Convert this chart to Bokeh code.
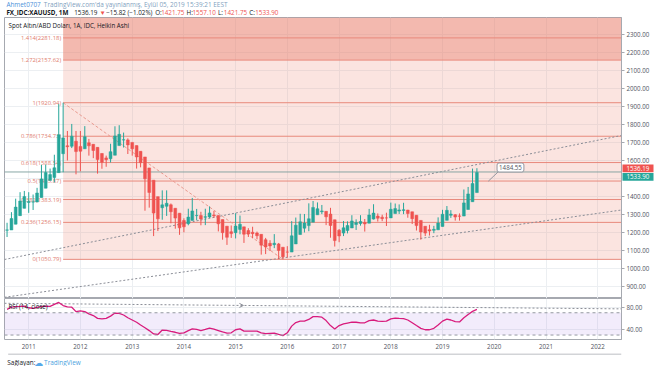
import numpy as np
import pandas as pd
from bokeh.plotting import figure
from bokeh.layouts import column, row
from bokeh.models import (Range1d, FixedTicker, PrintfTickFormatter, DatetimeTickFormatter,
                          Label, Arrow, OpenHead, ColumnDataSource, Span)
from bokeh.core.properties import value
from bokeh.embed import file_html
from bokeh.resources import INLINE

FONT = "Open Sans"
GREEN = "#26a69a"
RED = "#ef5350"
DARK = "#131722"
AXIS_TXT = "#50535e"
FRAME = "#a6a9b0"

# ---------------- data (monthly Heikin Ashi, Aug 2010 .. Sep 2019) ----------------
months = pd.date_range("2010-08-01", "2019-09-01", freq="MS")
ha_open = [1213, 1214, 1246, 1293.5, 1334,
           1366.75, 1369.1, 1369.3, 1394.4, 1446.1, 1489.4, 1505.6, 1532.5, 1637.6, 1681.6, 1679, 1707,
           1678.25, 1664.9, 1698.4, 1690, 1672.9, 1639, 1614.5, 1609.5, 1629.25, 1682.75, 1714, 1714.5,
           1700.6, 1682.7, 1651.2, 1619.6, 1558.9, 1490.7, 1399.2, 1337.5, 1345.5, 1353.9, 1334.7, 1307.4,
           1266.6, 1249, 1267.25, 1293.5, 1294.1, 1284.7, 1286.1, 1297.4, 1295, 1271.6, 1235.3, 1204.3,
           1199, 1217.25, 1231.25, 1210.9, 1201.2, 1197.35, 1189.8, 1159.8, 1139.65, 1132.6, 1136.4, 1118.3,
           1091.65, 1091.3, 1136.4, 1188.6, 1223.9, 1238.2, 1257.2, 1298.2, 1315.1, 1317.5, 1302.25, 1270.5,
           1212.9, 1196.7, 1211.35, 1225, 1244.6, 1250.2, 1255.6, 1251.7, 1274.5, 1291.1, 1285.3, 1281.15,
           1281.1, 1305, 1318.9, 1322.2, 1324.5, 1315, 1296, 1267.1, 1234.7, 1215.7, 1212, 1214.75,
           1233.5, 1267.4, 1295.2, 1298.85, 1292.3, 1291.15, 1327.8, 1371, 1421.75]
ha_high = [1254, 1313, 1388, 1424, 1431,
           1424, 1411, 1448, 1576, 1577, 1555, 1632, 1913, 1920.94, 1764, 1803, 1764,
           1764, 1791, 1720, 1690, 1672.9, 1640, 1627, 1693, 1790, 1796, 1755, 1723,
           1700.6, 1683, 1651.2, 1619.6, 1558.9, 1490.7, 1399.2, 1434, 1434, 1361, 1334.7, 1307.4,
           1279, 1332, 1392, 1331, 1315, 1332, 1345, 1320, 1295, 1271.6, 1235.3, 1239,
           1307, 1294, 1231.25, 1224, 1232, 1205, 1189.8, 1170, 1157, 1191, 1142, 1118.3,
           1124, 1263, 1283, 1304, 1303, 1362, 1375, 1367, 1353, 1317.5, 1337, 1270.5,
           1219, 1264, 1262, 1296, 1273, 1296, 1275, 1331, 1357, 1306, 1299, 1310,
           1366, 1361, 1356, 1365, 1326, 1315, 1296, 1267.1, 1234.7, 1243, 1237, 1284,
           1326, 1347, 1324, 1302, 1306, 1439, 1453, 1555, 1557.10]
ha_low = [1175, 1214, 1246, 1293.5, 1334,
          1309, 1325, 1369.3, 1394.4, 1446.1, 1489.4, 1478, 1532.5, 1535, 1600, 1669, 1523,
          1540, 1664.9, 1627, 1613, 1527, 1554, 1565, 1589, 1629.25, 1682.75, 1672, 1636,
          1627, 1555, 1562, 1321, 1338, 1180, 1208, 1271, 1292, 1251, 1221, 1187,
          1201, 1240, 1267.25, 1268, 1240, 1241, 1281, 1281, 1206, 1160, 1131, 1170,
          1167, 1190, 1142, 1175, 1168, 1162, 1077, 1080, 1097, 1113, 1052, 1050.79,
          1061, 1091.3, 1136.4, 1188.6, 1200, 1207, 1257.2, 1298.2, 1302, 1241, 1171, 1122,
          1146, 1180, 1195, 1225, 1214, 1238, 1205, 1251.7, 1272, 1261, 1263, 1236,
          1281.1, 1305, 1303, 1302, 1282, 1247, 1211, 1160, 1180, 1183, 1196, 1214.75,
          1233.5, 1267.4, 1281, 1266, 1266, 1291.15, 1327.8, 1371, 1421.75]
ha_close = [1214.5, 1277.5, 1341, 1374.5, 1399.5,
            1371.5, 1369.5, 1419.5, 1497.75, 1532.75, 1521.75, 1559.5, 1742.75, 1725.5, 1676.5, 1735, 1649.5,
            1651.5, 1732, 1681.5, 1655.75, 1605, 1590, 1604.5, 1649, 1736.25, 1745.25, 1715, 1686.75,
            1664.75, 1619.75, 1588, 1498.25, 1422.5, 1307.75, 1275.75, 1353.5, 1362.25, 1315.5, 1280, 1225.75,
            1231.5, 1285.5, 1319.75, 1294.75, 1275.25, 1287.5, 1308.75, 1292.5, 1248.25, 1199, 1173.25, 1193.75,
            1235.5, 1245.25, 1190.5, 1191.5, 1193.5, 1182.25, 1129.75, 1119.5, 1125.5, 1140.25, 1100.25, 1065,
            1091, 1181.5, 1240.75, 1259.25, 1252.5, 1276.25, 1339.25, 1332, 1320, 1287, 1238.75, 1155.25,
            1180.5, 1226, 1238.75, 1264.25, 1255.75, 1261, 1247.75, 1297.25, 1307.75, 1279.5, 1277, 1281,
            1329, 1332.75, 1325.5, 1326.75, 1305.5, 1277, 1238.25, 1202.25, 1196.75, 1208.25, 1217.5, 1252.25,
            1301.25, 1323, 1302.5, 1285.75, 1290, 1364.5, 1414.25, 1472, 1533.90]
rsi_values = [76, 80, 81, 81.5, 82,
              79, 78, 79.5, 81, 82, 81.5, 85, 88.5, 83, 80.5, 80, 72,
              73.5, 72, 68, 65, 60, 59, 60, 64, 69.5, 69, 66, 61,
              57, 53, 48, 43, 38, 32, 31, 39, 38.5, 36.5, 35, 33,
              34, 38, 41, 40, 38, 40, 42.5, 40.5, 38, 35.5, 33.5, 34,
              39.5, 41, 37, 37, 37, 37, 34, 32.5, 33, 33.5, 31, 29,
              34, 46, 52.5, 55, 55, 58, 63, 63, 62, 56, 47, 41,
              47, 50, 51.5, 53, 53, 52, 52, 56, 57, 55, 54.5, 55,
              59, 60.5, 60, 59.5, 57, 52, 47, 42, 39.5, 39.5, 42, 48,
              55, 58.5, 57, 54, 53.5, 61, 67, 72.5, 76]

year_ticks = list(range(2011, 2023))
price_ticks = list(range(900, 2400, 100))
rsi_ticks = [40, 80]
rsi_band = [30, 70]

fib_ratios = ["0", "0.236", "0.382", "0.5", "0.618", "0.786", "1", "1.272", "1.414"]
fib_prices = [1050.79, 1256.15, 1383.19, 1485.87, 1588.54, 1734.73, 1920.94, 2157.62, 2281.18]
fib_start = "2011-09-01"
fib_trend_dates = ["2011-09-01", "2015-12-01"]
fib_trend_prices = [1920.94, 1050.79]
chan_dates = ["2010-07-14", "2022-06-18"]
upper_chan_prices = [1050, 1739]
lower_chan_prices = [840, 1325]
rsi_trend_values = [87, 77]
rsi_arrow_date = "2015-02-25"
last_price = 1536.19
last_close = 1533.90
note_price = 1484.55
note_tip_date = "2019-11-20"
note_box_date = "2020-04-25"
note_box_price = 1561

X0 = pd.Timestamp("2010-07-14")
X1 = pd.Timestamp("2022-06-18")
PRICE_LO, PRICE_HI = 833.3, 2394.4
RSI_LO, RSI_HI = 22.0, 95.6

W_TOTAL = 654
AX_W = 33
P_H = 281


def ms(t):
    return pd.Timestamp(t).value / 1e6


year_ms = [ms(f"{y}-01-01") for y in year_ticks]
xr = Range1d(ms(X0), ms(X1))

CW = {**{d: 0.572 for d in "0123456789"}, ".": 0.266, ":": 0.266, ",": 0.245, " ": 0.28,
      "(": 0.296, ")": 0.296, "%": 0.823, "\u2212": 0.572, "_": 0.45, "\u25bc": 0.77, "'": 0.2,
      "I": 0.28, "M": 0.9, "W": 0.9}


def text_width(s, fs, bold=False):
    w = 0.0
    for ch in s:
        if ch in CW:
            w += CW[ch]
        elif ch.isupper():
            w += 0.66
        elif ch in "ilıj":
            w += 0.25
        elif ch in "mw":
            w += 0.86
        else:
            w += 0.56
    return w * fs * (1.16 if bold else 1.08)


def common(fig):
    fig.border_fill_color = "white"
    fig.background_fill_color = "white"


def place_segments(fig, segs, x0, y, fs):
    x = x0
    for txt, col, bold, gap in segs:
        x += gap * CW[" "] * fs
        fig.text(x=[x], y=[y], text=[txt], text_font=value(FONT), text_font_size=value(f"{fs}px"),
                 text_color=col, text_baseline="middle", text_align="left",
                 text_font_style="bold" if bold else "normal")
        x += text_width(txt, fs, bold)


# ---------------- header ----------------
H = figure(width=W_TOTAL, height=17, x_range=Range1d(0, W_TOTAL), y_range=Range1d(17, 0),
           output_backend="svg", toolbar_location=None, min_border=0,
           x_axis_location=None, y_axis_location=None)
common(H)
H.outline_line_color = None
H.grid.visible = False
place_segments(H, [("Ahmet0707", "#4a90d9", False, 0),
                   ("TradingView.com'da yayınlanmış, Eylül 05, 2019 15:39:21 EEST", "#7f9fc0", False, 1)],
               2, 3.8, 6.4)
place_segments(H, [("FX_IDC:XAUUSD, 1M", DARK, True, 0), ("1536.19", DARK, False, 1),
                   ("\u25bc", RED, False, 1), ("\u221215.82 (\u22121.02%)", DARK, False, 1),
                   ("O:", DARK, False, 1), ("1421.75", RED, False, 0),
                   ("H:", DARK, False, 1), ("1557.10", RED, False, 0),
                   ("L:", DARK, False, 1), ("1421.75", RED, False, 0),
                   ("C:", DARK, False, 1), ("1533.90", RED, False, 0)],
               2, 12.2, 6.3)

# ---------------- price pane ----------------
P = figure(width=W_TOTAL, height=P_H, x_range=xr, y_range=Range1d(PRICE_LO, PRICE_HI),
           x_axis_type="datetime", x_axis_location=None, y_axis_location="right",
           output_backend="svg", toolbar_location=None,
           min_border_left=4, min_border_right=AX_W, min_border_top=0, min_border_bottom=0)
common(P)
P.outline_line_color = FRAME
P.xgrid.ticker = FixedTicker(ticks=year_ms)
P.ygrid.ticker = FixedTicker(ticks=price_ticks)
P.grid.grid_line_color = "#eceff2"
P.yaxis.ticker = FixedTicker(ticks=[t for t in price_ticks if t != 1500])
P.yaxis.formatter = PrintfTickFormatter(format="%.2f")
P.yaxis.major_label_text_font = FONT
P.yaxis.major_label_text_font_size = "6.2px"
P.yaxis.major_label_text_color = AXIS_TXT
P.yaxis.major_tick_out = 3
P.yaxis.major_tick_in = 0
P.yaxis.minor_tick_line_color = None
P.yaxis.major_tick_line_color = FRAME
P.yaxis.axis_line_color = FRAME
P.yaxis.major_label_standoff = 2

fs_ms = ms(fib_start)
P.quad(left=[fs_ms], right=[ms(X1)], bottom=[fib_prices[0]], top=[fib_prices[7]],
       fill_color="#f08f7f", fill_alpha=0.24, line_color=None)
P.quad(left=[fs_ms], right=[ms(X1)], bottom=[fib_prices[7]], top=[PRICE_HI],
       fill_color="#e9806e", fill_alpha=0.55, line_color=None)
P.segment(x0=[fs_ms] * len(fib_prices), y0=fib_prices, x1=[ms(X1)] * len(fib_prices), y1=fib_prices,
          line_color="#e8897c", line_width=1)
P.text(x=[fs_ms] * len(fib_prices), y=fib_prices,
       text=[f"{r}({p:.2f})" for r, p in zip(fib_ratios, fib_prices)],
       text_font=value(FONT), text_font_size=value("5.9px"), text_color="#e07c6e",
       text_align="right", text_baseline="middle", x_offset=-2)

P.line([ms(d) for d in fib_trend_dates], fib_trend_prices, line_color="#e99a8f",
       line_dash="3 2", line_width=1)
P.line([ms(d) for d in chan_dates], upper_chan_prices, line_color="#8a8d96", line_dash="2 2", line_width=1)
P.line([ms(d) for d in chan_dates], lower_chan_prices, line_color="#8a8d96", line_dash="2 2", line_width=1)

P.line([ms(X0), ms(X1)], [last_price, last_price], line_color="#7c9e9c", line_width=1, line_alpha=0.9)

df = pd.DataFrame(dict(t=[ms(m) for m in months], o=ha_open, h=ha_high, l=ha_low, c=ha_close))
df["top"] = df[["o", "c"]].max(axis=1)
df["bot"] = df[["o", "c"]].min(axis=1)
df["col"] = np.where(df["c"] >= df["o"], GREEN, RED)
src = ColumnDataSource(df)
P.segment("t", "h", "t", "l", source=src, line_color="col", line_width=1)
P.vbar(x="t", width=20 * 86400000, top="top", bottom="bot", source=src,
       fill_color="col", line_color="col", line_width=0.5)

P.line([ms(note_tip_date), ms("2020-01-28")], [note_price, 1536], line_color="#9598a1", line_width=1)
P.add_layout(Label(x=ms(note_box_date), y=note_box_price, text=f"{note_price:.2f}",
                   text_font=FONT, text_font_size="6.2px", text_color=AXIS_TXT,
                   text_align="center", text_baseline="middle",
                   background_fill_color="white", border_line_color="#9598a1",
                   padding=2, border_radius=2))

P.add_layout(Label(x=ms(X0), y=PRICE_HI, x_offset=4, y_offset=-8,
                   text="Spot Altın/ABD Doları, 1A, IDC, Heikin Ashi",
                   text_font=FONT, text_font_size="6.2px", text_color=DARK, text_baseline="middle"))

# price boxes overlaid on the price axis (transparent figure sharing the y scale)
A = figure(width=AX_W, height=P_H, x_range=Range1d(0, AX_W), y_range=P.y_range,
           output_backend="svg", toolbar_location=None, min_border=0,
           x_axis_location=None, y_axis_location=None, margin=(0, 0, 0, -AX_W))
A.outline_line_color = None
A.grid.visible = False
A.background_fill_alpha = 0
A.border_fill_alpha = 0
dp = (PRICE_HI - PRICE_LO) / P_H
box_prices = [last_price + 3.6 * dp, last_close - 4.4 * dp]
A.rect(x=[16.5, 16.5], y=box_prices, width=[31, 31], height=[7.8 * dp, 7.8 * dp],
       fill_color=[RED, GREEN], line_color=None)
A.text(x=[5, 5], y=box_prices, text=[f"{last_price:.2f}", f"{last_close:.2f}"],
       text_font=value(FONT), text_font_size=value("6.2px"), text_color="white",
       text_align="left", text_baseline="middle")

# ---------------- RSI pane ----------------
R = figure(width=W_TOTAL, height=55, x_range=xr, y_range=Range1d(RSI_LO, RSI_HI),
           x_axis_type="datetime", y_axis_location="right",
           output_backend="svg", toolbar_location=None,
           min_border_left=4, min_border_right=AX_W, min_border_top=0, min_border_bottom=14)
common(R)
R.outline_line_color = FRAME
R.xgrid.ticker = FixedTicker(ticks=year_ms)
R.ygrid.ticker = FixedTicker(ticks=rsi_ticks)
R.grid.grid_line_color = "#eceff2"
R.xaxis.ticker = FixedTicker(ticks=year_ms)
R.xaxis.formatter = DatetimeTickFormatter(years="%Y", months="%Y", days="%Y")
R.xaxis.major_tick_out = 0
R.xaxis.major_tick_in = 0
R.xaxis.minor_tick_line_color = None
R.xaxis.axis_line_color = None
R.xaxis.major_label_standoff = 4
R.yaxis.ticker = FixedTicker(ticks=rsi_ticks)
R.yaxis.formatter = PrintfTickFormatter(format="%.2f")
R.yaxis.major_tick_out = 3
R.yaxis.major_tick_in = 0
R.yaxis.minor_tick_line_color = None
R.yaxis.major_tick_line_color = FRAME
R.yaxis.axis_line_color = FRAME
R.yaxis.major_label_standoff = 2
for ax in (R.xaxis, R.yaxis):
    ax.major_label_text_font = FONT
    ax.major_label_text_font_size = "6.2px"
    ax.major_label_text_color = AXIS_TXT

R.quad(left=[ms(X0)], right=[ms(X1)], bottom=[rsi_band[0]], top=[rsi_band[1]],
       fill_color="#9a6ee0", fill_alpha=0.13, line_color=None)
for lv in rsi_band:
    R.add_layout(Span(location=lv, dimension="width", line_color="#9598a1",
                      line_dash="3 3", line_width=1))
chan_ms = [ms(d) for d in chan_dates]
R.line(chan_ms, rsi_trend_values, line_color="#8a8d96", line_dash="2 2", line_width=1)
arr_x1 = ms(rsi_arrow_date)
arr_x0 = arr_x1 - 40 * 86400000
R.add_layout(Arrow(end=OpenHead(size=4, line_color="#8a8d96", line_width=1),
                   x_start=arr_x0, y_start=float(np.interp(arr_x0, chan_ms, rsi_trend_values)),
                   x_end=arr_x1, y_end=float(np.interp(arr_x1, chan_ms, rsi_trend_values)),
                   line_alpha=0))
R.line([ms(m) for m in months], rsi_values, line_color="#d81b7c", line_width=1.3)
R.add_layout(Label(x=ms(X0), y=RSI_HI, x_offset=4, y_offset=-7.5, text="RSI (14, close)",
                   text_font=FONT, text_font_size="6.2px", text_color=DARK, text_baseline="middle"))

# ---------------- footer ----------------
F = figure(width=W_TOTAL, height=13, x_range=Range1d(0, W_TOTAL), y_range=Range1d(13, 0),
           output_backend="svg", toolbar_location=None, min_border=0,
           x_axis_location=None, y_axis_location=None)
common(F)
F.outline_line_color = None
F.grid.visible = False
F.segment(x0=[3.9], y0=[0.5], x1=[W_TOTAL], y1=[0.5], line_color=FRAME, line_width=1)
place_segments(F, [("Sağlayan:", DARK, False, 0)], 3, 9, 6.4)
F.text(x=[31.5], y=[9], text=["\u2601"], text_font=value("DejaVu Sans"), text_font_size=value("9px"),
       text_color="#57a8e8", text_baseline="middle")
place_segments(F, [("TradingView", "#4a9fe0", False, 0)], 42, 9, 6.4)

layout = column(H, row(P, A, spacing=0), R, F, spacing=0)
open("out.html", "w").write(file_html(layout, INLINE))
